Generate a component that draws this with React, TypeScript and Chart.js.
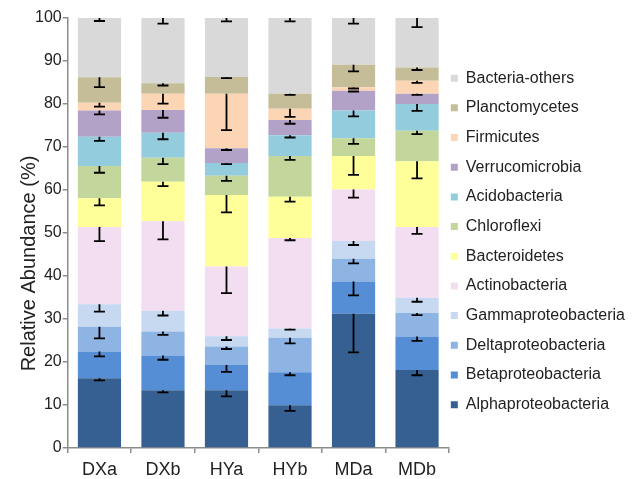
import React, { useEffect, useRef } from "react";
import { Chart, registerables } from "chart.js";

Chart.register(...registerables);

const samples = ["DXa", "DXb", "HYa", "HYb", "MDa", "MDb"];

// segment heights (%) per taxon, samples in order above
const alphaproteobacteria = [16.2, 13.4, 13.4, 9.9, 31.2, 18.1];
const betaproteobacteria = [6.2, 8.1, 5.9, 7.7, 7.5, 7.8];
const deltaproteobacteria = [5.8, 5.6, 4.3, 8.0, 5.3, 5.5];
const gammaproteobacteria = [5.2, 4.8, 2.4, 2.2, 4.1, 3.5];
const actinobacteria = [18.0, 20.8, 16.2, 21.0, 12.0, 16.5];
const bacteroidetes = [6.7, 9.2, 16.6, 9.6, 7.8, 15.3];
const chloroflexi = [7.5, 5.6, 4.5, 9.5, 4.1, 7.1];
const acidobacteria = [6.8, 5.8, 3.0, 4.8, 6.5, 6.2];
const verrucomicrobia = [6.1, 5.3, 3.4, 3.6, 4.6, 2.4];
const firmicutes = [1.8, 3.8, 12.7, 2.6, 0.8, 3.0];
const planctomycetes = [5.9, 2.4, 3.9, 3.5, 5.2, 3.1];
const bacteriaOthers = [13.8, 15.2, 13.7, 17.6, 10.9, 11.5];

// error bar lengths (%), drawn downward from the top of each segment
const errAlpha = [0.5, 0.5, 1.4, 1.3, 9.0, 1.2];
const errBeta = [1.1, 1.0, 1.6, 0.7, 3.2, 1.0];
const errDelta = [2.7, 0.8, 0.6, 1.3, 1.1, 0.5];
const errGamma = [1.7, 1.1, 0.9, 0.3, 0.9, 0.9];
const errActino = [3.3, 4.2, 6.2, 0.5, 1.9, 1.6];
const errBacteroidetes = [1.7, 1.0, 4.0, 1.1, 4.4, 4.0];
const errChloroflexi = [1.6, 1.5, 1.2, 0.9, 1.3, 0.8];
const errAcido = [1.0, 1.5, 0.3, 0.5, 1.4, 1.6];
const errVerruco = [0.9, 1.8, 0.4, 0.9, 0.2, 0.3];
const errFirmicutes = [0.9, 2.3, 8.5, 1.9, 0.3, 0.5];
const errPlancto = [2.3, 0.5, 0.3, 0.3, 1.5, 0.6];
const errOthers = [0.7, 1.3, 0.8, 0.8, 1.3, 2.1];

const taxonNames = [
  "Alphaproteobacteria",
  "Betaproteobacteria",
  "Deltaproteobacteria",
  "Gammaproteobacteria",
  "Actinobacteria",
  "Bacteroidetes",
  "Chloroflexi",
  "Acidobacteria",
  "Verrucomicrobia",
  "Firmicutes",
  "Planctomycetes",
  "Bacteria-others",
];
const taxonValues = [
  alphaproteobacteria, betaproteobacteria, deltaproteobacteria, gammaproteobacteria,
  actinobacteria, bacteroidetes, chloroflexi, acidobacteria, verrucomicrobia,
  firmicutes, planctomycetes, bacteriaOthers,
];
const taxonErrors = [
  errAlpha, errBeta, errDelta, errGamma, errActino, errBacteroidetes,
  errChloroflexi, errAcido, errVerruco, errFirmicutes, errPlancto, errOthers,
];
const taxonColors = [
  "#376092", "#558ED5", "#8EB4E3", "#C6D9F1", "#F3DDF1", "#FFFF99",
  "#C3D69B", "#93CDDD", "#B3A2C7", "#FCD5B5", "#C4BD97", "#D9D9D9",
];

const FONT = "'Liberation Sans', Arial, sans-serif";

const errorBarPlugin = {
  id: "errorBars",
  afterDatasetsDraw(chart: any) {
    const ctx = chart.ctx;
    const yScale = chart.scales.y;
    const dss = chart.data.datasets;
    dss.forEach((ds: any, i: number) => {
      const meta = chart.getDatasetMeta(i);
      meta.data.forEach((bar: any, j: number) => {
        let cum = 0;
        for (let k = 0; k <= i; k++) cum += dss[k].data[j];
        const yTop = yScale.getPixelForValue(cum);
        const yEnd = yScale.getPixelForValue(cum - ds.errors[j]);
        ctx.save();
        ctx.strokeStyle = "#000";
        ctx.lineWidth = 1.8;
        ctx.beginPath();
        ctx.moveTo(bar.x, yTop);
        ctx.lineTo(bar.x, yEnd);
        ctx.moveTo(bar.x - 5.5, yEnd);
        ctx.lineTo(bar.x + 5.5, yEnd);
        ctx.stroke();
        ctx.restore();
      });
    });
  },
};

export default function App() {
  const ref = useRef<HTMLCanvasElement | null>(null);

  useEffect(() => {
    document.body.style.margin = "0";
    const canvas = ref.current;
    if (!canvas) return;
    const datasets = taxonNames.map((name, i) => ({
      label: name,
      data: taxonValues[i],
      errors: taxonErrors[i],
      backgroundColor: taxonColors[i],
      borderWidth: 0,
      barPercentage: 0.68,
      categoryPercentage: 1,
    }));
    const defaultGen = (Chart as any).defaults.plugins.legend.labels.generateLabels;
    const chart = new Chart(canvas, {
      type: "bar",
      data: { labels: samples, datasets: datasets as any },
      options: {
        animation: false,
        responsive: false,
        devicePixelRatio: 1,
        layout: { padding: { left: 14, right: 4, top: 7, bottom: -8.5 } },
        plugins: {
          tooltip: { enabled: false },
          title: {
            display: true,
            text: "",
            font: { size: 11, lineHeight: 1 },
            padding: 0,
          },
          legend: {
            position: "right",
            reverse: true,
            maxWidth: 260,
            labels: {
              boxWidth: 7,
              boxHeight: 7,
              padding: 2,
              color: "#222",
              font: { family: FONT, size: 16, lineHeight: 1.73 },
              generateLabels: (c: any) =>
                defaultGen(c).map((it: any) => ({ ...it, text: [it.text], lineWidth: 0 })),
            },
          },
        },
        scales: {
          x: {
            stacked: true,
            grid: {
              display: true,
              drawOnChartArea: false,
              drawTicks: true,
              tickLength: 5,
              color: "#8c8c8c",
              lineWidth: 1.5,
              offset: true,
            },
            border: { color: "#8c8c8c", width: 1.5 },
            ticks: { color: "#222", font: { family: FONT, size: 18, lineHeight: 0.7 }, padding: 11 },
          },
          y: {
            stacked: true,
            min: 0,
            max: 100,
            grid: {
              drawOnChartArea: false,
              drawTicks: true,
              tickLength: 5,
              color: "#8c8c8c",
              lineWidth: 1.5,
            },
            border: { color: "#8c8c8c", width: 1.5 },
            ticks: { stepSize: 10, color: "#222", font: { family: FONT, size: 16 }, padding: 1 },
            title: {
              display: true,
              text: "Relative Abundance (%)           ",
              color: "#222",
              font: { family: FONT, size: 20, lineHeight: 1 },
              padding: { top: 5, bottom: -5 },
            },
          },
        },
      },
      plugins: [errorBarPlugin],
    });
    return () => chart.destroy();
  }, []);

  return (
    <div style={{ width: 639, height: 479, background: "#fff" }}>
      <canvas ref={ref} width={639} height={479} />
    </div>
  );
}
